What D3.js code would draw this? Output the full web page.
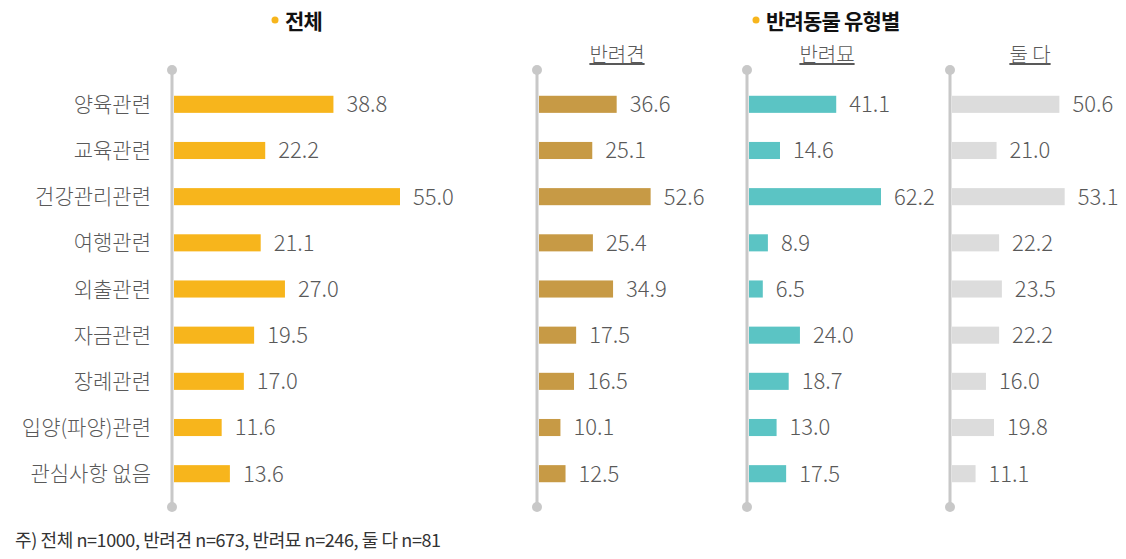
<!DOCTYPE html>
<html>
<head>
<meta charset="utf-8">
<script src="https://cdn.jsdelivr.net/npm/d3@7"></script>
<style>
  body { margin: 0; background: #fff; }
  svg text { font-family: "Noto Sans CJK KR", "Noto Sans", sans-serif; }
</style>
</head>
<body>
<svg id="chart" width="1126" height="559"></svg>
<script>
var categories = ["양육관련", "교육관련", "건강관리관련", "여행관련", "외출관련", "자금관련", "장례관련", "입양(파양)관련", "관심사항 없음"];
var total = [38.8, 22.2, 55.0, 21.1, 27.0, 19.5, 17.0, 11.6, 13.6];
var dog = [36.6, 25.1, 52.6, 25.4, 34.9, 17.5, 16.5, 10.1, 12.5];
var cat = [41.1, 14.6, 62.2, 8.9, 6.5, 24.0, 18.7, 13.0, 17.5];
var both = [50.6, 21.0, 53.1, 22.2, 23.5, 22.2, 16.0, 19.8, 11.1];
var panelNames = ["반려견", "반려묘", "둘 다"];
var footnote = "주) 전체 n=1000, 반려견 n=673, 반려묘 n=246, 둘 다 n=81";

var svg = d3.select("#chart");

var y = d3.scaleBand().domain(categories).range([81, 497]).paddingInner(0.63).paddingOuter(0.32);

var panels = [
  {x0: 172, data: total, color: "#F7B51C", scale: d3.scaleLinear().domain([0, 55]).range([0, 226])},
  {x0: 537, data: dog, color: "#C79A45", scale: d3.scaleLinear().domain([0, 62.2]).range([0, 132])},
  {x0: 747, data: cat, color: "#5BC4C4", scale: d3.scaleLinear().domain([0, 62.2]).range([0, 132])},
  {x0: 950, data: both, color: "#DCDCDC", scale: d3.scaleLinear().domain([0, 62.2]).range([0, 132])}
];

panels.forEach(function(p, pi) {
  var g = svg.append("g").attr("transform", "translate(" + p.x0 + ",0)");
  g.append("line").attr("x1", 0).attr("x2", 0).attr("y1", 70).attr("y2", 507)
    .attr("stroke", "#C8C8C8").attr("stroke-width", 3);
  g.selectAll("circle").data([70, 507]).enter().append("circle")
    .attr("cx", 0).attr("cy", function(d) { return d; }).attr("r", 5).attr("fill", "#C8C8C8");

  g.selectAll("rect.bar").data(p.data).enter().append("rect")
    .attr("class", "bar")
    .attr("x", 2)
    .attr("y", function(d, i) { return y(categories[i]); })
    .attr("width", function(d) { return p.scale(d); })
    .attr("height", y.bandwidth())
    .attr("fill", p.color);

  g.selectAll("text.val").data(p.data).enter().append("text")
    .attr("class", "val")
    .attr("x", function(d) { return p.scale(d) + 15; })
    .attr("y", function(d, i) { return y(categories[i]) + y.bandwidth() / 2; })
    .attr("dy", "0.36em")
    .attr("font-size", 22)
    .attr("font-weight", 300)
    .attr("fill", "#595959")
    .text(function(d) { return d.toFixed(1); });

  if (pi > 0) {
    g.append("text")
      .attr("x", 80).attr("y", 62)
      .attr("text-anchor", "middle")
      .attr("font-size", 20)
      .attr("font-weight", 300)
      .attr("fill", "#595959")
      .attr("text-decoration", "underline")
      .text(panelNames[pi - 1]);
  }
});

// category labels
svg.selectAll("text.cat").data(categories).enter().append("text")
  .attr("class", "cat")
  .attr("x", 151)
  .attr("y", function(d) { return y(d) + y.bandwidth() / 2; })
  .attr("dy", "0.36em")
  .attr("text-anchor", "end")
  .attr("font-size", 21)
  .attr("font-weight", 300)
  .attr("fill", "#595959")
  .text(function(d) { return d; });

// titles
var titles = [{x: 272, text: "전체"}, {x: 753, text: "반려동물 유형별"}];
titles.forEach(function(t) {
  svg.append("circle").attr("cx", t.x + 3).attr("cy", 20).attr("r", 3.5).attr("fill", "#F7B51C");
  svg.append("text").attr("x", t.x + 13).attr("y", 29)
    .attr("font-size", 21).attr("font-weight", 700).attr("fill", "#111")
    .attr("letter-spacing", -0.8)
    .text(t.text);
});

svg.append("text").attr("x", 15).attr("y", 547)
  .attr("font-size", 18).attr("fill", "#333").attr("letter-spacing", -0.4)
  .text(footnote);
</script>
</body>
</html>
